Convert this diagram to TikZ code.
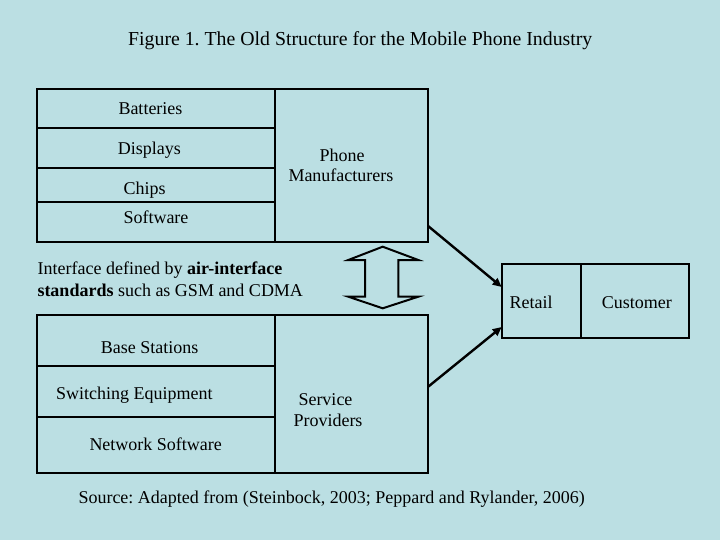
\documentclass[tikz,border=0pt]{standalone}
\usepackage{fontspec}
\setmainfont{Liberation Serif}
\usetikzlibrary{arrows.meta}
\definecolor{bg}{RGB}{187,223,227}
\frenchspacing
\begin{document}
\begin{tikzpicture}[x=1pt,y=-1pt,
  cell/.style={draw, line width=1.8pt, anchor=north west, inner sep=0pt, outer sep=0pt},
  lbl/.style={anchor=base west, inner sep=0pt, font=\fontsize{18}{21}\selectfont},
  arr/.style={line width=2.4pt, -{Triangle[length=9pt,width=8pt]}},
  dbl/.style={line width=2pt, line join=miter}]
\fill[bg] (0,0) rectangle (720,540);
\useasboundingbox (0,0) rectangle (720,540);
% top structure
\node[cell, minimum width=238pt, minimum height=39pt] (bat) at (37,89) {};
\node[cell, minimum width=238pt, minimum height=39.7pt] (disp) at (37,128) {};
\node[cell, minimum width=238pt, minimum height=34pt] (chips) at (37,167.7) {};
\node[cell, minimum width=238pt, minimum height=40pt] (soft) at (37,201.7) {};
\node[cell, minimum width=153pt, minimum height=152.7pt] (pm) at (275,89) {};
% bottom structure
\node[cell, minimum width=238pt, minimum height=51pt] (bs) at (37,314.7) {};
\node[cell, minimum width=238pt, minimum height=51pt] (sw) at (37,365.7) {};
\node[cell, minimum width=238pt, minimum height=56.3pt] (ns) at (37,416.7) {};
\node[cell, minimum width=153pt, minimum height=158.3pt] (sp) at (275,314.7) {};
% retail / customer
\node[cell, minimum width=79.3pt, minimum height=73.4pt] (ret) at (501.7,264.3) {};
\node[cell, minimum width=108pt, minimum height=73.4pt] (cus) at (581,264.3) {};
% arrows
\draw[arr] ([yshift=-60.6pt]pm.east) -- ([yshift=14pt]ret.west);
\draw[arr] ([yshift=7pt]sp.east) -- ([yshift=-26pt]ret.west);
% double arrow
\draw[dbl] (382.7,246.7) -- (418.3,260) -- (398.3,260) -- (398.3,296.7) -- (418.3,296.7)
  -- (382.7,308.3) -- (348.3,296.7) -- (365,296.7) -- (365,260) -- (348.3,260) -- cycle;
% labels
\node[lbl, font=\fontsize{19.8}{22}\selectfont] (title) at (128,46) {Figure 1. The Old Structure for the Mobile Phone Industry};
\node[lbl] (tbat) at (118.3,115) {Batteries};
\node[lbl] (tdisp) at (117.7,155) {Displays};
\node[lbl] (tchips) at (123.3,195) {Chips};
\node[lbl] (tsoft) at (123.3,223) {Software};
\node[lbl] (tpm1) at (319.3,161.5) {Phone};
\node[lbl] (tpm2) at (288.3,182) {Manufacturers};
\node[lbl] (tif1) at (37.5,274.3) {Interface defined by \textbf{air-interface}};
\node[lbl] (tif2) at (37.3,296.7) {\textbf{standards} such as GSM and CDMA};
\node[lbl] (tret) at (509.3,308) {Retail};
\node[lbl] (tcus) at (601.7,308) {Customer};
\node[lbl] (tbs) at (100.7,353) {Base Stations};
\node[lbl] (tsw) at (56,399) {Switching Equipment};
\node[lbl] (tns) at (89.3,450) {Network Software};
\node[lbl] (tsp1) at (298.3,405) {Service};
\node[lbl] (tsp2) at (293.3,426.7) {Providers};
\node[lbl] (tsrc) at (78.3,503.3) {Source: Adapted from (Steinbock, 2003; Peppard and Rylander, 2006)};
\end{tikzpicture}
\end{document}
